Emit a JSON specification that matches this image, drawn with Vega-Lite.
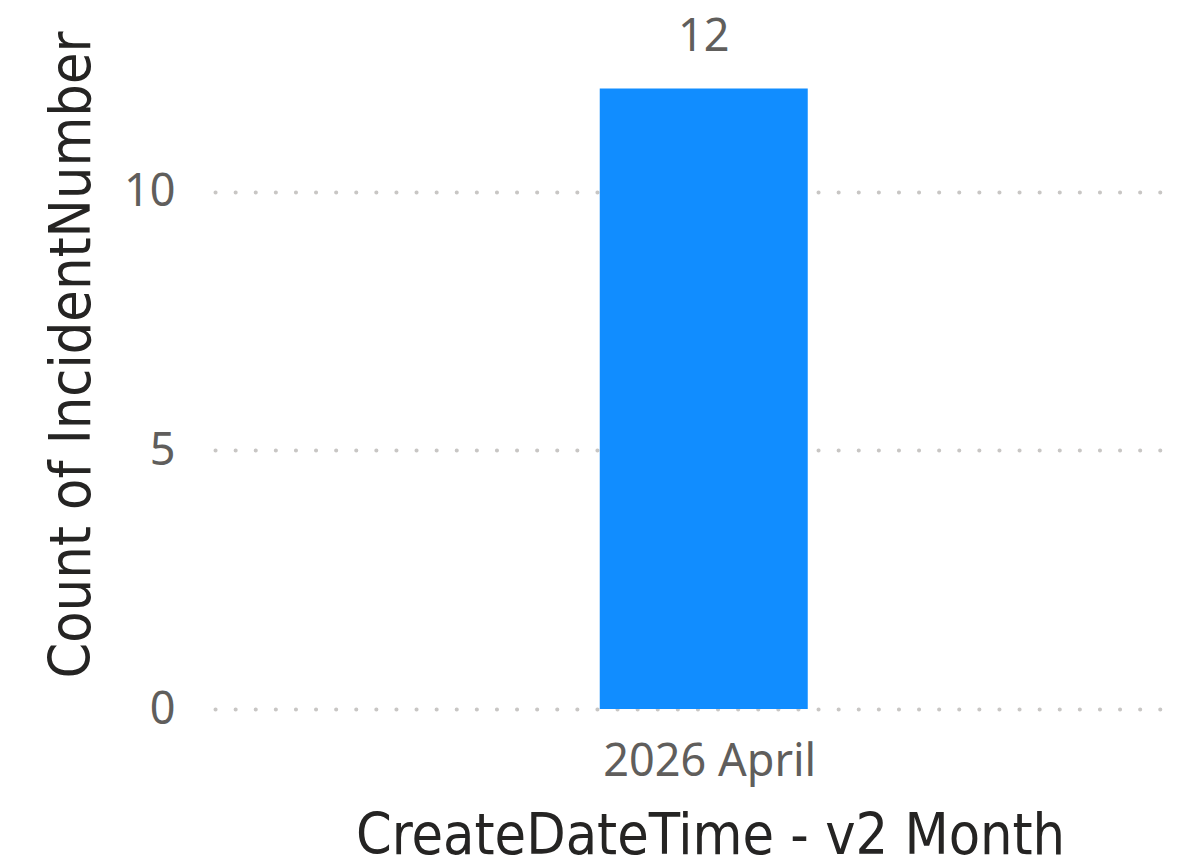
{
  "$schema": "https://vega.github.io/schema/vega-lite/v6.json",
  "autosize": {"type": "none"},
  "padding": {"left": 215, "top": 0, "right": 0, "bottom": 159},
  "width": 990,
  "height": 709,
  "background": "white",
  "config": {"view": {"stroke": null}},
  "data": {"values": [{"month": "2026 April", "count": 12}]},
  "encoding": {
    "x": {
      "field": "month",
      "type": "nominal",
      "title": "CreateDateTime - v2 Month",
      "scale": {"paddingInner": 0.468, "paddingOuter": 1, "align": 0.492},
      "axis": {
        "labelAngle": 0,
        "labelLimit": 600,
        "labelOffset": 6,
        "domain": false,
        "ticks": false,
        "labelPadding": 30,
        "labelFont": "Noto Sans",
        "labelFontSize": 45,
        "labelColor": "#605E5C",
        "titleFont": "DejaVu Sans Condensed",
        "titleFontSize": 57,
        "titleFontWeight": "normal",
        "titleColor": "#252423",
        "titlePadding": 24
      }
    },
    "y": {
      "field": "count",
      "type": "quantitative",
      "title": "Count of IncidentNumber",
      "scale": {"domain": [0, 13.71], "nice": false, "zero": true},
      "axis": {
        "values": [0, 5, 10],
        "domain": false,
        "ticks": false,
        "labelPadding": 40,
        "labelFont": "Noto Sans",
        "labelFontSize": 45,
        "labelColor": "#605E5C",
        "grid": true,
        "gridColor": "#C8C6C4",
        "gridWidth": 4,
        "gridDash": [0.1, 20],
        "gridCap": "round",
        "titleFont": "DejaVu Sans Condensed",
        "titleFontSize": 57,
        "titleFontWeight": "normal",
        "titleColor": "#252423",
        "titlePadding": 22
      }
    }
  },
  "layer": [
    {"mark": {"type": "bar", "color": "#118DFF"}},
    {
      "mark": {
        "type": "text",
        "baseline": "bottom",
        "dy": -28,
        "font": "Noto Sans",
        "fontSize": 45,
        "color": "#605E5C"
      },
      "encoding": {"text": {"field": "count", "type": "quantitative"}}
    }
  ]
}
